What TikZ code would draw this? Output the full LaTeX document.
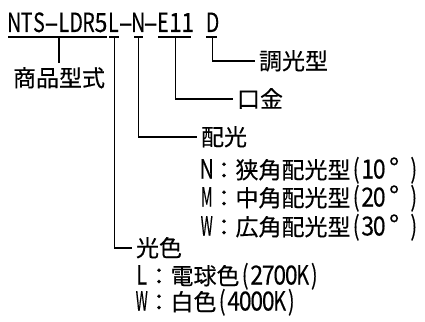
\documentclass[tikz,border=0pt]{standalone}
\usepackage{fontspec}
\usepackage{graphicx}
\setmainfont{Noto Sans CJK JP}[FakeBold=0.3]
\def\hwid{11.5pt}
\newcommand\hc[2][0.85]{\makebox[\hwid]{\scalebox{#1}[1.15]{#2}}}
\newcommand\fc[1]{\makebox[23pt]{#1}}
\newcommand\dg{\makebox[23pt][l]{\hspace{4pt}\scalebox{1.2}{°}}}
\tikzset{
  seg/.style={inner sep=0pt, outer sep=0pt, anchor=base west, text height=17pt, text depth=5pt,
    font=\fontsize{23}{27}\selectfont\def\hwid{12.4pt}},
  lbl/.style={inner xsep=4pt, inner ysep=0pt, outer sep=0pt, anchor=west, text height=17pt, text depth=0pt,
    font=\fontsize{23}{27}\selectfont},
  det/.style={inner sep=0pt, outer sep=0pt, anchor=west, text height=17pt, text depth=0pt,
    font=\fontsize{23}{27}\selectfont},
  conn/.style={line width=1.2pt},
}
\begin{document}
\begin{tikzpicture}[x=1pt, y=-1pt]
\useasboundingbox (0,0) rectangle (425,321);
% top model code
\node[seg] (s1) at (8,32) {\hc{N}\hc{T}\hc{S}\hc[1.9]{-}\hc{L}\hc{D}\hc{R}\hc[1]{5}};
\node[seg] (sL) at (107.2,32) {\hc{L}};
\node[seg] (d1) at (119.6,32) {\hc[1.9]{-}};
\node[seg] (sN) at (132,32) {\hc{N}};
\node[seg] (d2) at (144.4,32) {\hc[1.9]{-}};
\node[seg] (sE) at (156.8,32) {\hc{E}\hc[1]{1}\hc[1]{1}};
\node[seg] (sD) at (206.4,32) {\hc{D}};
% underlines
\draw[conn] (s1.south west) -- (s1.south east);
\draw[conn] ([xshift=2pt]sL.south west) -- ([xshift=-1pt]sL.south east);
\draw[conn] ([xshift=2pt]sN.south west) -- ([xshift=-1pt]sN.south east);
\draw[conn] ([xshift=1.5pt]sE.south west) -- ([xshift=-3pt]sE.south east);
\draw[conn] ([xshift=0pt]sD.south west) -- ([xshift=-1.5pt]sD.south east);
% labels
\node[lbl, anchor=center, inner xsep=0pt, inner ysep=6.5pt] (l1) at (59,78) {商品型式};
\node[lbl] (lD) at (255,61) {調光型};
\node[lbl] (lE) at (233,99) {口金};
\node[lbl] (lN) at (197,137) {配光};
\node[lbl] (lL) at (132,248) {光色};
% connectors
\draw[conn] (s1.south -| l1.north) -- (l1.north);
\draw[conn] (sD.south) |- (lD.west);
\draw[conn] (sE.south) |- (lE.west);
\draw[conn] (sN.south) |- (lN.west);
\draw[conn] ([xshift=1pt]sL.south) |- (lL.west);
% details
\node[det] (n1) at (201,170) {\hc{N}\fc{：}狭角配光型\hc{(}\hc[1]{1}\hc[1]{0}\dg\hc{)}};
\node[det] (n2) at (201,198) {\hc[0.62]{M}\fc{：}中角配光型\hc{(}\hc[1]{2}\hc[1]{0}\dg\hc{)}};
\node[det] (n3) at (201,227) {\hc[0.6]{W}\fc{：}広角配光型\hc{(}\hc[1]{3}\hc[1]{0}\dg\hc{)}};
\node[det] (c1) at (136,276) {\hc{L}\fc{：}電球色\hc{(}\hc[1]{2}\hc[1]{7}\hc[1]{0}\hc[1]{0}\hc{K}\hc{)}};
\node[det] (c2) at (136,302) {\hc[0.6]{W}\fc{：}白色\hc{(}\hc[1]{4}\hc[1]{0}\hc[1]{0}\hc[1]{0}\hc{K}\hc{)}};
\end{tikzpicture}
\end{document}
